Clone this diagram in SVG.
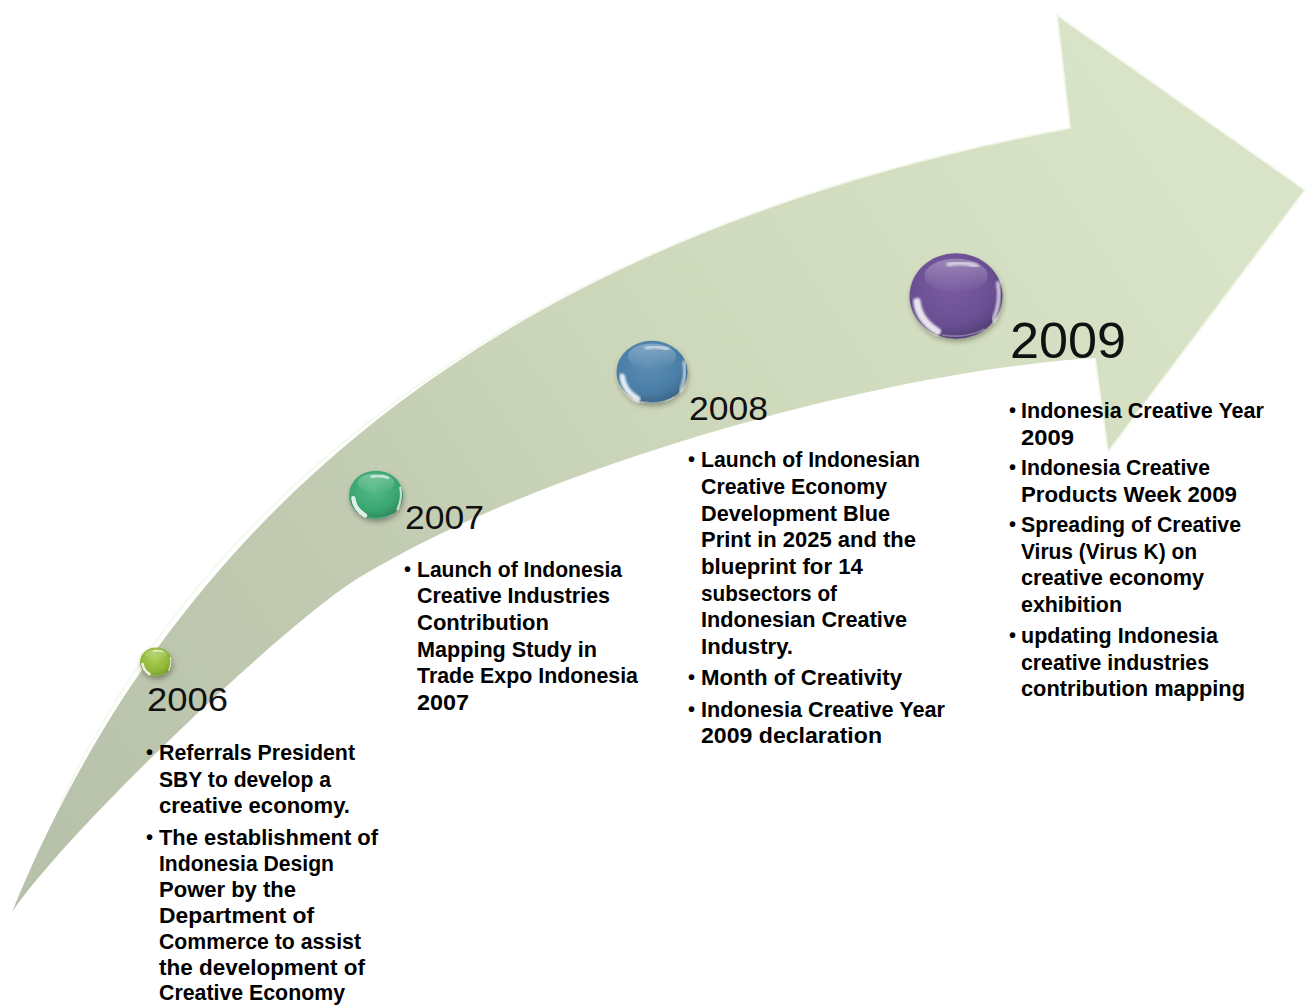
<svg xmlns="http://www.w3.org/2000/svg" xmlns:xlink="http://www.w3.org/1999/xlink" width="1310" height="1006" viewBox="0 0 1310 1006">
  <style>
    .yr { font-family: "Liberation Sans", Arial, sans-serif; font-weight: normal; fill: #111; }
    .ln { font-family: "Liberation Sans", Arial, sans-serif; font-weight: bold; font-size: 22px; fill: #000; }
    .bl { font-family: "Liberation Sans", Arial, sans-serif; font-weight: bold; font-size: 20px; fill: #000; }
  </style>
  <defs>
    <!-- body of the curved arrow: greyish at the tail, fresh green at the head -->
    <linearGradient id="arrowFill" gradientUnits="userSpaceOnUse" x1="60" y1="880" x2="1150" y2="150">
      <stop offset="0" stop-color="#b8c1aa"/>
      <stop offset="0.35" stop-color="#c2ccb2"/>
      <stop offset="0.65" stop-color="#cfdabd"/>
      <stop offset="1" stop-color="#d8e3c7"/>
    </linearGradient>

    <!-- glossy ball bodies -->
    <radialGradient id="ballLime" cx="0.45" cy="0.38" r="0.68">
      <stop offset="0" stop-color="#a9cf55"/>
      <stop offset="0.65" stop-color="#8fb738"/>
      <stop offset="1" stop-color="#6f9226"/>
    </radialGradient>
    <radialGradient id="ballGreen" cx="0.45" cy="0.38" r="0.68">
      <stop offset="0" stop-color="#55bb86"/>
      <stop offset="0.65" stop-color="#39a56f"/>
      <stop offset="1" stop-color="#2a8056"/>
    </radialGradient>
    <radialGradient id="ballBlue" cx="0.45" cy="0.38" r="0.68">
      <stop offset="0" stop-color="#5b8db5"/>
      <stop offset="0.65" stop-color="#4a7ea6"/>
      <stop offset="1" stop-color="#375f80"/>
    </radialGradient>
    <radialGradient id="ballPurple" cx="0.45" cy="0.38" r="0.68">
      <stop offset="0" stop-color="#7a5ca1"/>
      <stop offset="0.65" stop-color="#6b4f93"/>
      <stop offset="1" stop-color="#4f3a70"/>
    </radialGradient>
    <linearGradient id="topSheen" x1="0" y1="0" x2="0" y2="1">
      <stop offset="0" stop-color="#ffffff" stop-opacity="0.3"/>
      <stop offset="1" stop-color="#ffffff" stop-opacity="0"/>
    </linearGradient>

    <filter id="ballShadow" x="-30%" y="-30%" width="160%" height="170%">
      <feDropShadow dx="1" dy="3" stdDeviation="2.5" flood-color="#2e3324" flood-opacity="0.4"/>
    </filter>
    <filter id="soft" x="-20%" y="-20%" width="140%" height="140%">
      <feGaussianBlur stdDeviation="1.2"/>
    </filter>

    <!-- shared gloss for a ball of radius 50 -->
    <g id="gloss">
      <ellipse cx="0" cy="-22" rx="34" ry="18" fill="url(#topSheen)"/>
      <path d="M-8,-34 Q8,-38 22,-32" fill="none" stroke="#ffffff" stroke-width="5" stroke-linecap="round" opacity="0.6" filter="url(#soft)"/>
      <path d="M-42,6 Q-40,26 -20,38" fill="none" stroke="#ffffff" stroke-width="8" stroke-linecap="round" opacity="0.85" filter="url(#soft)"/>
      <path d="M45,-14 Q49,6 40,26" fill="none" stroke="#ffffff" stroke-width="4" stroke-linecap="round" opacity="0.7" filter="url(#soft)"/>
      <path d="M-14,42 Q10,46 30,36" fill="none" stroke="#ffffff" stroke-width="2" stroke-linecap="round" opacity="0.3"/>
    </g>
  </defs>

  <rect width="1310" height="1006" fill="#ffffff"/>

  <!-- curved arrow -->
  <g id="arrow">
    <path d="M12,912 C180,500 520,230 1070,128 L1057,15 L1305,190 L1108,452 L1095,358 C900,370 560,457 360,577 C290,619 72,825 12,912 Z" fill="url(#arrowFill)"/>
    <path d="M60,805 C200,500 520,230 1070,128 L1057,15 L1305,190 L1108,452 L1095,358" fill="none" stroke="#f3f8eb" stroke-width="2" stroke-linejoin="round" opacity="0.85"/>
  </g>

  <!-- milestone balls -->
  <g id="ball-2006" filter="url(#ballShadow)">
    <g transform="translate(156,662) scale(0.32)">
      <ellipse rx="50" ry="45" fill="url(#ballLime)"/>
      <use xlink:href="#gloss" href="#gloss"/>
    </g>
  </g>
  <g id="ball-2007" filter="url(#ballShadow)">
    <g transform="translate(376,495) scale(0.54)">
      <ellipse rx="50" ry="45" fill="url(#ballGreen)"/>
      <use xlink:href="#gloss" href="#gloss"/>
    </g>
  </g>
  <g id="ball-2008" filter="url(#ballShadow)">
    <g transform="translate(652,372) scale(0.71)">
      <ellipse rx="50" ry="44" fill="url(#ballBlue)"/>
      <use xlink:href="#gloss" href="#gloss"/>
    </g>
  </g>
  <g id="ball-2009" filter="url(#ballShadow)">
    <g transform="translate(956,296) scale(0.93)">
      <ellipse rx="50" ry="46" fill="url(#ballPurple)"/>
      <use xlink:href="#gloss" href="#gloss"/>
    </g>
  </g>

  <!-- 2006 -->
  <g id="node-2006">
    <text class="yr" x="147" y="711" font-size="34" textLength="81" lengthAdjust="spacingAndGlyphs">2006</text>
    <text class="bl" x="146" y="759">•</text>
    <text class="ln" x="159" y="760" textLength="196" lengthAdjust="spacingAndGlyphs">Referrals President</text>
    <text class="ln" x="159" y="787" textLength="172" lengthAdjust="spacingAndGlyphs">SBY to develop a</text>
    <text class="ln" x="159" y="813" textLength="191" lengthAdjust="spacingAndGlyphs">creative economy.</text>
    <text class="bl" x="146" y="844">•</text>
    <text class="ln" x="159" y="845" textLength="219" lengthAdjust="spacingAndGlyphs">The establishment of</text>
    <text class="ln" x="159" y="871" textLength="175" lengthAdjust="spacingAndGlyphs">Indonesia Design</text>
    <text class="ln" x="159" y="897" textLength="137" lengthAdjust="spacingAndGlyphs">Power by the</text>
    <text class="ln" x="159" y="923" textLength="155" lengthAdjust="spacingAndGlyphs">Department of</text>
    <text class="ln" x="159" y="949" textLength="202" lengthAdjust="spacingAndGlyphs">Commerce to assist</text>
    <text class="ln" x="159" y="975" textLength="206" lengthAdjust="spacingAndGlyphs">the development of</text>
    <text class="ln" x="159" y="1000" textLength="186" lengthAdjust="spacingAndGlyphs">Creative Economy</text>
  </g>

  <!-- 2007 -->
  <g id="node-2007">
    <text class="yr" x="405" y="529" font-size="34" textLength="79" lengthAdjust="spacingAndGlyphs">2007</text>
    <text class="bl" x="404" y="576">•</text>
    <text class="ln" x="417" y="577" textLength="205" lengthAdjust="spacingAndGlyphs">Launch of Indonesia</text>
    <text class="ln" x="417" y="603" textLength="193" lengthAdjust="spacingAndGlyphs">Creative Industries</text>
    <text class="ln" x="417" y="630" textLength="132" lengthAdjust="spacingAndGlyphs">Contribution</text>
    <text class="ln" x="417" y="657" textLength="180" lengthAdjust="spacingAndGlyphs">Mapping Study in</text>
    <text class="ln" x="417" y="683" textLength="221" lengthAdjust="spacingAndGlyphs">Trade Expo Indonesia</text>
    <text class="ln" x="417" y="710" textLength="52" lengthAdjust="spacingAndGlyphs">2007</text>
  </g>

  <!-- 2008 -->
  <g id="node-2008">
    <text class="yr" x="689" y="420" font-size="34" textLength="79" lengthAdjust="spacingAndGlyphs">2008</text>
    <text class="bl" x="688" y="466">•</text>
    <text class="ln" x="701" y="467" textLength="219" lengthAdjust="spacingAndGlyphs">Launch of Indonesian</text>
    <text class="ln" x="701" y="494" textLength="186" lengthAdjust="spacingAndGlyphs">Creative Economy</text>
    <text class="ln" x="701" y="521" textLength="189" lengthAdjust="spacingAndGlyphs">Development Blue</text>
    <text class="ln" x="701" y="547" textLength="215" lengthAdjust="spacingAndGlyphs">Print in 2025 and the</text>
    <text class="ln" x="701" y="574" textLength="162" lengthAdjust="spacingAndGlyphs">blueprint for 14</text>
    <text class="ln" x="701" y="601" textLength="136" lengthAdjust="spacingAndGlyphs">subsectors of</text>
    <text class="ln" x="701" y="627" textLength="206" lengthAdjust="spacingAndGlyphs">Indonesian Creative</text>
    <text class="ln" x="701" y="654" textLength="92" lengthAdjust="spacingAndGlyphs">Industry.</text>
    <text class="bl" x="688" y="684">•</text>
    <text class="ln" x="701" y="685" textLength="201" lengthAdjust="spacingAndGlyphs">Month of Creativity</text>
    <text class="bl" x="688" y="716">•</text>
    <text class="ln" x="701" y="717" textLength="244" lengthAdjust="spacingAndGlyphs">Indonesia Creative Year</text>
    <text class="ln" x="701" y="743" textLength="181" lengthAdjust="spacingAndGlyphs">2009 declaration</text>
  </g>

  <!-- 2009 -->
  <g id="node-2009">
    <text class="yr" x="1010" y="358" font-size="50" textLength="116" lengthAdjust="spacingAndGlyphs">2009</text>
    <text class="bl" x="1009" y="417">•</text>
    <text class="ln" x="1021" y="418" textLength="243" lengthAdjust="spacingAndGlyphs">Indonesia Creative Year</text>
    <text class="ln" x="1021" y="445" textLength="53" lengthAdjust="spacingAndGlyphs">2009</text>
    <text class="bl" x="1009" y="474">•</text>
    <text class="ln" x="1021" y="475" textLength="189" lengthAdjust="spacingAndGlyphs">Indonesia Creative</text>
    <text class="ln" x="1021" y="502" textLength="216" lengthAdjust="spacingAndGlyphs">Products Week 2009</text>
    <text class="bl" x="1009" y="531">•</text>
    <text class="ln" x="1021" y="532" textLength="220" lengthAdjust="spacingAndGlyphs">Spreading of Creative</text>
    <text class="ln" x="1021" y="559" textLength="176" lengthAdjust="spacingAndGlyphs">Virus (Virus K) on</text>
    <text class="ln" x="1021" y="585" textLength="183" lengthAdjust="spacingAndGlyphs">creative economy</text>
    <text class="ln" x="1021" y="612" textLength="101" lengthAdjust="spacingAndGlyphs">exhibition</text>
    <text class="bl" x="1009" y="642">•</text>
    <text class="ln" x="1021" y="643" textLength="197" lengthAdjust="spacingAndGlyphs">updating Indonesia</text>
    <text class="ln" x="1021" y="670" textLength="188" lengthAdjust="spacingAndGlyphs">creative industries</text>
    <text class="ln" x="1021" y="696" textLength="224" lengthAdjust="spacingAndGlyphs">contribution mapping</text>
  </g>
</svg>
